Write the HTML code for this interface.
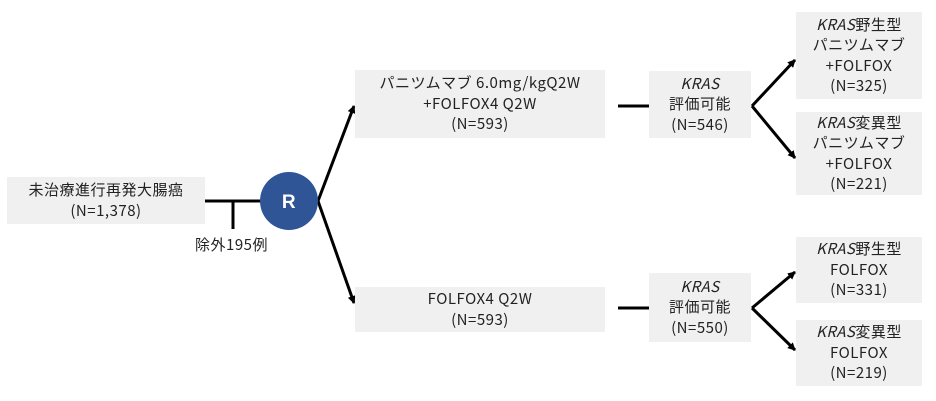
<!DOCTYPE html>
<html><head><meta charset="utf-8"><style>
body{margin:0;width:936px;height:401px;background:#fff;position:relative;overflow:hidden;font-family:"Noto Sans CJK JP",sans-serif;color:#222;font-size:15px;letter-spacing:0.5px;}
.b{position:absolute;background:#f0f0f0;display:flex;flex-direction:column;justify-content:center;align-items:center;text-align:center;line-height:20.5px;}
i{font-style:italic}
svg{position:absolute;left:0;top:0}
</style></head><body>
<svg width="936" height="401">
<defs><marker id="a" markerWidth="8" markerHeight="8" refX="7" refY="4" orient="auto" markerUnits="userSpaceOnUse"><path d="M0,0 L8,4 L0,8 z" fill="#000"/></marker></defs>
<g stroke="#000" stroke-width="3" fill="none">
<line x1="205" y1="201" x2="262" y2="201"/>
<line x1="233" y1="201" x2="233" y2="229"/>
<line x1="318" y1="201" x2="354" y2="106" marker-end="url(#a)"/>
<line x1="318" y1="201" x2="354" y2="303" marker-end="url(#a)"/>
<line x1="618" y1="106" x2="649" y2="106"/>
<line x1="618" y1="308" x2="649" y2="308"/>
<line x1="752" y1="106" x2="795" y2="60" marker-end="url(#a)"/>
<line x1="752" y1="106" x2="795" y2="158" marker-end="url(#a)"/>
<line x1="752" y1="308" x2="795" y2="272" marker-end="url(#a)"/>
<line x1="752" y1="308" x2="795" y2="350" marker-end="url(#a)"/>
</g>
<circle cx="289" cy="201" r="29" fill="#2f5597"/>
<text x="289" y="208" text-anchor="middle" fill="#fff" font-family="Liberation Sans" font-weight="bold" font-size="19">R</text>
</svg>
<div class="b" style="left:7px;top:177px;width:198px;height:47px">未治療進行再発大腸癌<br>(N=1,378)</div>
<div style="position:absolute;left:195px;top:235px;font-size:15px;line-height:20px">除外195例</div>
<div class="b" style="left:355px;top:70px;width:250px;height:68px">パニツムマブ 6.0mg/kgQ2W<br>+FOLFOX4 Q2W<br>(N=593)</div>
<div class="b" style="left:355px;top:287px;width:250px;height:45px">FOLFOX4 Q2W<br>(N=593)</div>
<div class="b" style="left:649px;top:71px;width:102px;height:67px"><i>KRAS</i>評価可能<br>(N=546)</div>
<div class="b" style="left:649px;top:273px;width:102px;height:69px"><i>KRAS</i>評価可能<br>(N=550)</div>
<div class="b" style="left:796px;top:12px;width:126px;height:87px"><span><i>KRAS</i>野生型</span>パニツムマブ<br>+FOLFOX<br>(N=325)</div>
<div class="b" style="left:796px;top:112px;width:126px;height:83px"><span><i>KRAS</i>変異型</span>パニツムマブ<br>+FOLFOX<br>(N=221)</div>
<div class="b" style="left:796px;top:237px;width:126px;height:66px"><span><i>KRAS</i>野生型</span>FOLFOX<br>(N=331)</div>
<div class="b" style="left:796px;top:320px;width:126px;height:66px"><span><i>KRAS</i>変異型</span>FOLFOX<br>(N=219)</div>
</body></html>
